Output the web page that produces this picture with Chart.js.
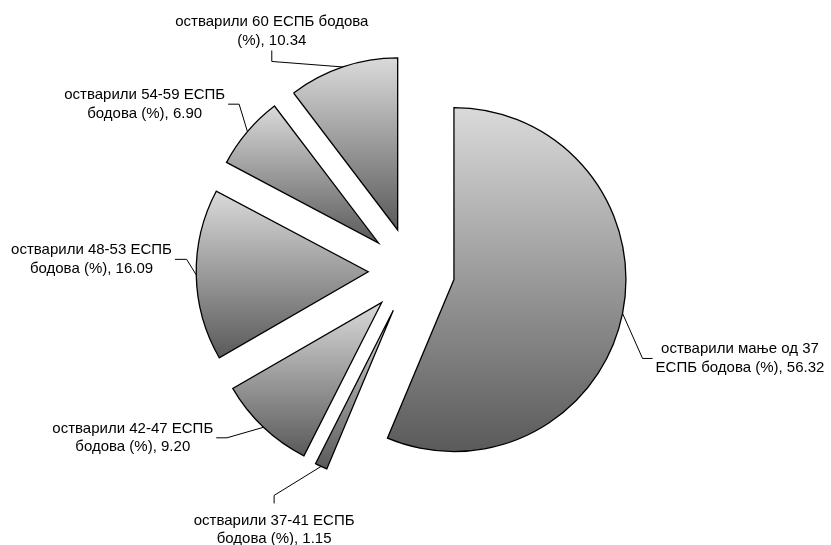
<!DOCTYPE html>
<html><head><meta charset="utf-8">
<script src="https://cdn.jsdelivr.net/npm/chart.js@4.4.1/dist/chart.umd.min.js"></script>
<style>html,body{margin:0;padding:0;background:#fff;}canvas{display:block}</style>
</head><body>
<canvas id="c" width="831" height="545"></canvas>
<script>
// ---- data ----
const categories = [
  ['остварили мање од 37', 'ЕСПБ бодова (%)'],
  ['остварили 37-41 ЕСПБ', 'бодова (%)'],
  ['остварили 42-47 ЕСПБ', 'бодова (%)'],
  ['остварили 48-53 ЕСПБ', 'бодова (%)'],
  ['остварили 54-59 ЕСПБ', 'бодова (%)'],
  ['остварили 60 ЕСПБ бодова', '(%)']
];
const values = [56.32, 1.15, 9.20, 16.09, 6.90, 10.34];

// ---- layout / style ----
const EXPLODE = 43.3;
const RADIUS = 172;
const FONT = '15px "Liberation Sans", Arial, sans-serif';
const LINE_H = 18.5;
const labelLayout = [
  {dx: 20, dy: 45, side: 'right', seg: 10},
  {dx: -47, dy: 29, side: 'bottom', seg: 8},
  {dx: -36.5, dy: 10.5, side: 'left', seg: 10.7},
  {dx: -9.6, dy: -15.5, side: 'left', seg: 11.7},
  {dx: -8.3, dy: -27.4, side: 'left', seg: 11},
  {dx: -71, dy: -5.5, side: 'top', seg: 11}
];

function angleIn(a, s, e) {
  const T = Math.PI * 2;
  let d = ((a - s) % T + T) % T;
  return d <= (e - s);
}

const explodePlugin = {
  id: 'explode',
  afterUpdate(chart) {
    const ctx = chart.ctx;
    chart.getDatasetMeta(0).data.forEach(arc => {
      const mid = (arc.startAngle + arc.endAngle) / 2;
      arc.x += EXPLODE * Math.cos(mid);
      arc.y += EXPLODE * Math.sin(mid);
      const r = arc.outerRadius;
      const ys = [arc.y, arc.y + r * Math.sin(arc.startAngle), arc.y + r * Math.sin(arc.endAngle)];
      [Math.PI / 2, -Math.PI / 2].forEach(a => {
        if (angleIn(a, arc.startAngle, arc.endAngle)) ys.push(arc.y + r * Math.sin(a));
      });
      const top = Math.min(...ys), bot = Math.max(...ys);
      const g = ctx.createLinearGradient(0, top, 0, bot);
      g.addColorStop(0, '#dadada');
      g.addColorStop(1, '#5a5a5a');
      arc.options = Object.assign({}, arc.options, {backgroundColor: g});
    });
  }
};

const labelPlugin = {
  id: 'sliceLabels',
  afterDatasetsDraw(chart) {
    const ctx = chart.ctx;
    const meta = chart.getDatasetMeta(0);
    ctx.save();
    ctx.font = FONT;
    ctx.fillStyle = '#000';
    ctx.strokeStyle = '#000';
    ctx.lineWidth = 1;
    ctx.textAlign = 'center';
    ctx.textBaseline = 'middle';
    meta.data.forEach((arc, i) => {
      const lay = labelLayout[i];
      const mid = (arc.startAngle + arc.endAngle) / 2;
      const ax = arc.x + arc.outerRadius * Math.cos(mid);
      const ay = arc.y + arc.outerRadius * Math.sin(mid);
      const ex = ax + lay.dx, ey = ay + lay.dy;
      let sx = ex, sy = ey;
      if (lay.side === 'left') sx = ex - lay.seg;
      else if (lay.side === 'right') sx = ex + lay.seg;
      else if (lay.side === 'top') sy = ey - lay.seg;
      else sy = ey + lay.seg;
      ctx.beginPath();
      ctx.moveTo(ax, ay);
      ctx.lineTo(ex, ey);
      ctx.lineTo(sx, sy);
      ctx.stroke();

      const lines = categories[i].slice();
      lines[lines.length - 1] += ', ' + values[i].toFixed(2);
      const w = Math.max(...lines.map(l => ctx.measureText(l).width));
      const blockH = LINE_H * lines.length;
      let cx, cy;
      if (lay.side === 'left') { cx = sx - 3 - w / 2; cy = sy; }
      else if (lay.side === 'right') { cx = sx + 3 + w / 2; cy = sy; }
      else if (lay.side === 'top') { cx = sx; cy = sy - 10 - blockH / 2 + LINE_H / 2 - LINE_H / 2; cy = sy - 10 - LINE_H / 2; }
      else { cx = sx; cy = sy + 17 + LINE_H / 2; }
      lines.forEach((l, k) => {
        ctx.fillText(l, cx, cy + (k - (lines.length - 1) / 2) * LINE_H);
      });
    });
    ctx.restore();
  }
};

new Chart(document.getElementById('c'), {
  type: 'pie',
  data: {
    labels: categories,
    datasets: [{
      data: values,
      backgroundColor: '#999999',
      borderColor: '#000000',
      borderWidth: 1.3,
      borderJoinStyle: 'miter'
    }]
  },
  options: {
    responsive: false,
    animation: false,
    events: [],
    radius: RADIUS,
    layout: {padding: {left: 50, right: 58, top: 40, bottom: 43}},
    plugins: {legend: {display: false}, tooltip: {enabled: false}}
  },
  plugins: [explodePlugin, labelPlugin]
});
</script>
</body></html>
